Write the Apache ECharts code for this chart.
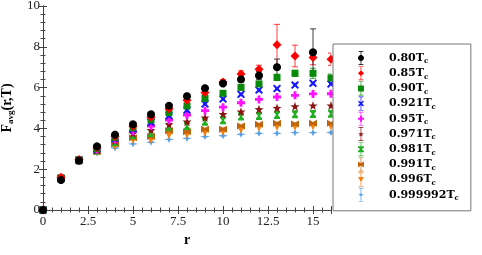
<!DOCTYPE html>
<html><head><meta charset="utf-8">
<script src="https://cdn.jsdelivr.net/npm/echarts@6/dist/echarts.min.js"></script>
<style>html,body{margin:0;padding:0;background:#fff}#c{width:482px;height:255px}</style>
</head><body><div id="c"></div>
<script>
const rVals = [0,1,2,3,4,5,6,7,8,9,10,11,12,13,14,15,16];
const names = ['0.80','0.85','0.90','0.921','0.95','0.971','0.981','0.991','0.996','0.999992'];
const s080 = [0,1.47,2.42,3.12,3.69,4.2,4.69,5.11,5.58,5.97,6.2,6.4,6.59,7.0,null,7.73,null];
const s085 = [0,1.6,2.47,3.06,3.62,4.1,4.55,4.96,5.38,5.76,6.27,6.67,6.9,8.1,7.55,7.47,7.39];
const s090 = [0,1.56,2.46,3.02,3.56,4.03,4.42,4.77,5.1,5.47,5.72,6.01,6.18,6.5,6.7,6.7,6.47];
const s0921 = [0,1.55,2.45,2.99,3.5,3.96,4.3,4.62,4.9,5.2,5.44,5.67,5.88,5.95,6.13,6.21,6.18];
const s095 = [0,1.55,2.44,2.96,3.45,3.86,4.12,4.41,4.66,4.87,5.04,5.26,5.42,5.54,5.62,5.69,5.7];
const s0971 = [0,1.55,2.44,2.93,3.4,3.76,3.92,4.2,4.33,4.53,4.7,4.82,4.94,5.0,5.08,5.12,5.12];
const s0981 = [0,1.54,2.43,2.9,3.32,3.66,3.77,4.08,4.12,4.33,4.4,4.58,4.61,4.66,4.69,4.71,4.72];
const s0991 = [0,1.54,2.42,2.87,3.24,3.54,3.6,3.89,3.84,3.96,3.96,4.12,4.2,4.25,4.22,4.25,4.25];
const s0996 = [0,1.54,2.42,2.84,3.14,3.43,3.43,3.68,3.7,3.8,3.84,3.95,4.05,4.08,4.08,4.1,4.1];
const s0999992 = [0,1.52,2.4,2.8,3.04,3.24,3.32,3.46,3.51,3.6,3.64,3.71,3.76,3.76,3.79,3.79,3.8];
const e080 = [0,0.03,0.03,0.04,0.05,0.05,0.06,0.07,0.08,0.09,0.1,0.12,0.2,0.4,null,1.15,null];
const e085 = [0,0.03,0.03,0.04,0.05,0.05,0.06,0.07,0.08,0.1,0.12,0.15,0.2,1.0,0.53,0.35,0.3];
const e090 = [0,0.02,0.03,0.03,0.04,0.04,0.05,0.05,0.06,0.07,0.08,0.1,0.12,0.15,0.15,0.25,0.2];
const xTicks = [0,2.5,5,7.5,10,12.5,15];
const yTicks = [0,2,4,6,8,10];

const values = [s080,s085,s090,s0921,s095,s0971,s0981,s0991,s0996,s0999992];
const errors = [e080,e085,e090,null,null,null,null,null,null,null];
const colors = ['#000000','#ff0000','#0a8a0a','#1414ff','#ff10ff','#8b1414','#22b022','#c0650c','#f58210','#5aa0e4'];

function orient(pts){let a=0;for(let i=0;i<pts.length;i++){const p=pts[i],q=pts[(i+1)%pts.length];a+=p[0]*q[1]-q[0]*p[1];}return a<0?pts.slice().reverse():pts;}
function pp(pts,s,dx,dy){pts=orient(pts);return 'M'+pts.map(p=>(p[0]*s+dx).toFixed(2)+','+(p[1]*s+dy).toFixed(2)).join(' L')+' Z';}
const circ=[];for(let i=0;i<24;i++){const a=i/24*Math.PI*2;circ.push([5+5*Math.cos(a),5+5*Math.sin(a)]);}
const shapes = [
  circ,
  [[5,0],[10,5],[5,10],[0,5]],
  [[0,0],[10,0],[10,10],[0,10]],
  [[0,1.5],[1.5,0],[5,3],[8.5,0],[10,1.5],[7,5],[10,8.5],[8.5,10],[5,7],[1.5,10],[0,8.5],[3,5]],
  [[3.2,0],[6.8,0],[6.8,3.2],[10,3.2],[10,6.8],[6.8,6.8],[6.8,10],[3.2,10],[3.2,6.8],[0,6.8],[0,3.2],[3.2,3.2]],
  [[5,0.3],[6.18,3.68],[9.76,3.76],[6.9,5.92],[7.94,9.35],[5,7.3],[2.06,9.35],[3.1,5.92],[0.24,3.76],[3.82,3.68]],
  [[0,0],[10,0],[10,2],[6.5,5],[10,8],[10,10],[0,10],[0,8],[3.5,5],[0,2]],
  [[0,0],[5,3],[10,0],[10,10],[5,7],[0,10]],
  [[0,0.5],[10,0.5],[5,9.5]],
  [[5,0],[6.3,3.7],[10,5],[6.3,6.3],[5,10],[3.7,6.3],[0,5],[3.7,3.7]]
];
const sizes = [8,9,7,8,8,9,[6,8],[8,7],8,[10,7]];
function legendIcon(sh){
  const bar=[[4.5,0],[5.5,0],[5.5,20],[4.5,20]];
  const c1=[[1.5,0],[8.5,0],[8.5,0.9],[1.5,0.9]];
  const c2=[[1.5,19.1],[8.5,19.1],[8.5,20],[1.5,20]];
  return 'path://'+pp(bar,1,0,0)+' '+pp(c1,1,0,0)+' '+pp(c2,1,0,0)+' '+pp(sh,0.85,0.75,5.75);
}

const series=[];
for(let k=values.length-1;k>=0;k--){
  if(errors[k]){
    const ed=[];rVals.forEach((x,i)=>{if(values[k][i]!=null&&errors[k][i]!=null)ed.push([x,values[k][i],errors[k][i]]);});
    series.push({type:'custom',name:'err'+k,z:1,clip:true,data:ed,
      renderItem:(p,api)=>{const x=api.value(0),y=api.value(1),e=api.value(2);
        const a=api.coord([x,y-e]),b=api.coord([x,y+e]);const st={stroke:colors[k],lineWidth:1,opacity:0.75};
        return {type:'group',children:[
          {type:'line',shape:{x1:a[0],y1:a[1],x2:b[0],y2:b[1]},style:st},
          {type:'line',shape:{x1:a[0]-3,y1:a[1],x2:a[0]+3,y2:a[1]},style:st},
          {type:'line',shape:{x1:b[0]-3,y1:b[1],x2:b[0]+3,y2:b[1]},style:st}]};},
      encode:{x:0,y:1}});
  }
}
for(let k=values.length-1;k>=0;k--){
  series.push({type:'scatter',name:names[k],z:2,clip:true,
    symbol:'path://'+pp(shapes[k],1,0,0),symbolSize:sizes[k],
    itemStyle:{color:colors[k],opacity:1},
    data:rVals.map((x,i)=>[x,values[k][i]]).filter(d=>d[1]!=null)});
}

const serif='Liberation Serif';
const chart=echarts.init(document.getElementById('c'));
const axCommon={axisLine:{lineStyle:{color:'#444',width:1}},splitLine:{show:false},
  axisTick:{inside:true,length:4,lineStyle:{color:'#444'}},
  minorTick:{show:true,splitNumber:5,length:2.5,lineStyle:{color:'#444'}}};
chart.setOption({
  animation:false,
  grid:{left:43,right:151,top:6,bottom:45,containLabel:false,outerBoundsMode:'none'},
  xAxis:[
    Object.assign({type:'value',min:0,max:16,interval:2.5,position:'bottom',
      name:'r',nameLocation:'middle',nameGap:17,
      nameTextStyle:{fontFamily:serif,fontWeight:'bold',fontSize:14,color:'#000'},
      axisLabel:{fontFamily:serif,fontSize:13,color:'#222',margin:5,
        formatter:v=>xTicks.includes(v)?String(v):''}},axCommon),
    Object.assign({type:'value',min:0,max:16,interval:2.5,position:'top',axisLabel:{show:false}},axCommon)
  ],
  yAxis:[
    Object.assign({type:'value',min:0,max:10,interval:2,position:'left',
      name:'{b|F}{s|avg}{b|(r,T)}',nameLocation:'middle',nameGap:28,nameRotate:90,
      nameTextStyle:{rich:{b:{fontFamily:serif,fontWeight:'bold',fontSize:14,color:'#000',lineHeight:16},
        s:{fontFamily:serif,fontWeight:'bold',fontSize:9,color:'#000',verticalAlign:'bottom',lineHeight:12}}},
      axisLabel:{fontFamily:serif,fontSize:13,color:'#222',margin:3,
        formatter:v=>yTicks.includes(v)?String(v):''}},axCommon),
    Object.assign({type:'value',min:0,max:10,interval:2,position:'right',axisLabel:{show:false}},axCommon)
  ],
  legend:{orient:'vertical',left:333,top:44,padding:[7,12,9,25],itemGap:1.2,itemWidth:46,itemHeight:14,
    backgroundColor:'#fff',borderColor:'#777',borderWidth:1,
    data:names.map((n,k)=>({name:n,icon:legendIcon(shapes[k])})),
    formatter:n=>'{a|'+n+'T}{s|c}',
    textStyle:{rich:{a:{fontFamily:'DejaVu Serif',fontWeight:'bold',fontSize:11,color:'#000',lineHeight:14},
      s:{fontFamily:'DejaVu Serif',fontWeight:'bold',fontSize:7,color:'#000',verticalAlign:'bottom',lineHeight:11}}}},
  series:series
});
</script></body></html>
